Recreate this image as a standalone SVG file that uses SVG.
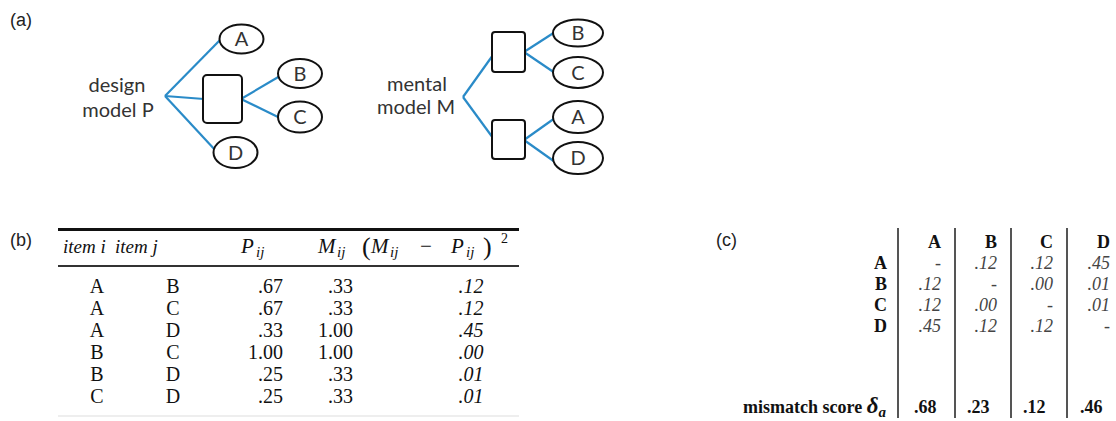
<svg xmlns="http://www.w3.org/2000/svg" width="1116" height="421" viewBox="0 0 1116 421">
<style>
.lbl{font-family:"Liberation Sans",Arial,sans-serif;font-size:18px;fill:#222}
.cal{font-family:Lato,"Open Sans",sans-serif;font-size:20px;fill:#333}
.node ellipse,.node rect{fill:#fff;stroke:#111;stroke-width:2}
.edge{stroke:#2a8bc8;stroke-width:2.2;fill:none}
.tb{font-family:"Liberation Serif","Times New Roman",serif;font-size:20px;fill:#111}
.th{font-family:"Liberation Serif","Times New Roman",serif;font-size:19px;fill:#111;font-style:italic}
.tc{font-family:"Liberation Serif","Times New Roman",serif;font-size:18px;fill:#111}
.mth{font-family:"Liberation Serif","Times New Roman",serif;font-size:21px;fill:#111}
.sub{font-family:"Liberation Serif","Times New Roman",serif;font-size:15px;fill:#111;font-style:italic}
.par{font-family:"Liberation Serif","Times New Roman",serif;font-size:26px;fill:#111}
.sup{font-family:"Liberation Serif","Times New Roman",serif;font-size:14px;fill:#111}
.it{font-style:italic}
.bd{font-weight:bold}
.gr{fill:#444}
.vl{stroke:#555;stroke-width:2}
</style>
<rect width="1116" height="421" fill="#fff"/>
<text class="lbl" x="10" y="26">(a)</text>
<text class="lbl" x="10" y="246">(b)</text>
<text class="lbl" x="716" y="246">(c)</text>

<g id="connectors">
<line class="edge" x1="165" y1="96" x2="221" y2="39"/>
<line class="edge" x1="165" y1="96" x2="204" y2="99"/>
<line class="edge" x1="165" y1="96" x2="216" y2="151"/>
<line class="edge" x1="241" y1="99" x2="280" y2="76"/>
<line class="edge" x1="241" y1="99" x2="280" y2="118"/>
<line class="edge" x1="463" y1="97" x2="493" y2="55"/>
<line class="edge" x1="463" y1="97" x2="493" y2="138"/>
<line class="edge" x1="524" y1="52" x2="555" y2="32"/>
<line class="edge" x1="524" y1="52" x2="555" y2="73"/>
<line class="edge" x1="524" y1="140" x2="555" y2="118"/>
<line class="edge" x1="524" y1="140" x2="555" y2="162"/>
</g>

<g id="designLabel"><text class="cal" text-anchor="middle" x="117" y="92">design</text><text class="cal" text-anchor="middle" x="118" y="117">model P</text></g>
<g id="mentalLabel"><text class="cal" text-anchor="middle" x="417" y="91">mental</text><text class="cal" text-anchor="middle" x="416" y="114">model M</text></g>

<g id="pRect" class="node"><rect x="203" y="75" width="39" height="48" rx="4"/></g>
<g id="pA" class="node"><ellipse cx="241.5" cy="39" rx="22" ry="14.5"/><text class="cal" text-anchor="middle" x="241.5" y="46">A</text></g>
<g id="pB" class="node"><ellipse cx="300" cy="73.5" rx="22" ry="14.5"/><text class="cal" text-anchor="middle" x="300" y="80.5">B</text></g>
<g id="pC" class="node"><ellipse cx="300" cy="117" rx="22" ry="15.5"/><text class="cal" text-anchor="middle" x="300" y="124">C</text></g>
<g id="pD" class="node"><ellipse cx="235.5" cy="152.5" rx="22" ry="15.5"/><text class="cal" text-anchor="middle" x="235.5" y="159.5">D</text></g>

<g id="mRect1" class="node"><rect x="492" y="32" width="33" height="40" rx="3"/></g>
<g id="mRect2" class="node"><rect x="492" y="120" width="33" height="39" rx="3"/></g>
<g id="mB" class="node"><ellipse cx="578" cy="33" rx="25" ry="13.5"/><text class="cal" text-anchor="middle" x="578" y="40">B</text></g>
<g id="mC" class="node"><ellipse cx="578" cy="72.5" rx="25" ry="15.5"/><text class="cal" text-anchor="middle" x="578" y="79.5">C</text></g>
<g id="mA" class="node"><ellipse cx="578" cy="117" rx="25" ry="16"/><text class="cal" text-anchor="middle" x="578" y="124">A</text></g>
<g id="mD" class="node"><ellipse cx="578" cy="158" rx="25" ry="16"/><text class="cal" text-anchor="middle" x="578" y="165">D</text></g>

<g id="tableB">
<line x1="58" y1="229.5" x2="519" y2="229.5" stroke="#111" stroke-width="3"/>
<line x1="58" y1="266" x2="519" y2="266" stroke="#333" stroke-width="2"/>
<line x1="58" y1="416" x2="519" y2="416" stroke="#ddd" stroke-width="1"/>
<text class="th" x="63" y="253">item i</text>
<text class="th" x="115" y="253">item j</text>
<text class="mth it" x="241" y="253">P</text><text class="sub" x="256" y="257">ij</text>
<text class="mth it" x="318" y="253">M</text><text class="sub" x="337" y="257">ij</text>
<text class="par" x="362" y="255">(</text>
<text class="mth it" x="371" y="253">M</text>
<text class="sub" x="390" y="257">ij</text>
<text class="mth" x="420" y="253">−</text>
<text class="mth it" x="451" y="253">P</text>
<text class="sub" x="466" y="257">ij</text>
<text class="par" x="483" y="255">)</text>
<text class="sup" x="501" y="243">2</text>
<g text-anchor="middle">
<text class="tb" x="97" y="293">A</text><text class="tb" x="173" y="293">B</text>
<text class="tb" x="97" y="315">A</text><text class="tb" x="173" y="315">C</text>
<text class="tb" x="97" y="337">A</text><text class="tb" x="173" y="337">D</text>
<text class="tb" x="97" y="359">B</text><text class="tb" x="173" y="359">C</text>
<text class="tb" x="97" y="381">B</text><text class="tb" x="173" y="381">D</text>
<text class="tb" x="97" y="403">C</text><text class="tb" x="173" y="403">D</text>
<text class="tb it" x="471" y="293">.12</text>
<text class="tb it" x="471" y="315">.12</text>
<text class="tb it" x="471" y="337">.45</text>
<text class="tb it" x="471" y="359">.00</text>
<text class="tb it" x="471" y="381">.01</text>
<text class="tb it" x="471" y="403">.01</text>
</g>
<g text-anchor="end">
<text class="tb" x="283" y="293">.67</text><text class="tb" x="353" y="293">.33</text>
<text class="tb" x="283" y="315">.67</text><text class="tb" x="353" y="315">.33</text>
<text class="tb" x="283" y="337">.33</text><text class="tb" x="353" y="337">1.00</text>
<text class="tb" x="283" y="359">1.00</text><text class="tb" x="353" y="359">1.00</text>
<text class="tb" x="283" y="381">.25</text><text class="tb" x="353" y="381">.33</text>
<text class="tb" x="283" y="403">.25</text><text class="tb" x="353" y="403">.33</text>
</g>
</g>

<g id="tableC">
<line class="vl" x1="898" y1="228" x2="898" y2="418"/>
<line class="vl" x1="955" y1="228" x2="955" y2="418"/>
<line class="vl" x1="1011" y1="228" x2="1011" y2="418"/>
<line class="vl" x1="1067" y1="228" x2="1067" y2="418"/>
<g text-anchor="end">
<text class="tc bd" x="941" y="248">A</text><text class="tc bd" x="997" y="248">B</text><text class="tc bd" x="1053" y="248">C</text><text class="tc bd" x="1110" y="248">D</text>
<text class="tc bd" x="887" y="269">A</text>
<text class="tc bd" x="887" y="290">B</text>
<text class="tc bd" x="887" y="311">C</text>
<text class="tc bd" x="887" y="332">D</text>
<text class="tc it gr" x="941" y="269">-</text><text class="tc it gr" x="997" y="269">.12</text><text class="tc it gr" x="1053" y="269">.12</text><text class="tc it gr" x="1110" y="269">.45</text>
<text class="tc it gr" x="941" y="290">.12</text><text class="tc it gr" x="997" y="290">-</text><text class="tc it gr" x="1053" y="290">.00</text><text class="tc it gr" x="1110" y="290">.01</text>
<text class="tc it gr" x="941" y="311">.12</text><text class="tc it gr" x="997" y="311">.00</text><text class="tc it gr" x="1053" y="311">-</text><text class="tc it gr" x="1110" y="311">.01</text>
<text class="tc it gr" x="941" y="332">.45</text><text class="tc it gr" x="997" y="332">.12</text><text class="tc it gr" x="1053" y="332">.12</text><text class="tc it gr" x="1110" y="332">-</text>
<text class="tc bd" x="886" y="413">mismatch score <tspan class="it" font-size="23">δ</tspan><tspan class="it" font-size="15" dy="4">a</tspan></text>
</g>
<text class="tc bd" x="914" y="413">.68</text>
<text class="tc bd" x="967" y="413">.23</text>
<text class="tc bd" x="1023" y="413">.12</text>
<text class="tc bd" x="1080" y="413">.46</text>
</g>
</svg>
